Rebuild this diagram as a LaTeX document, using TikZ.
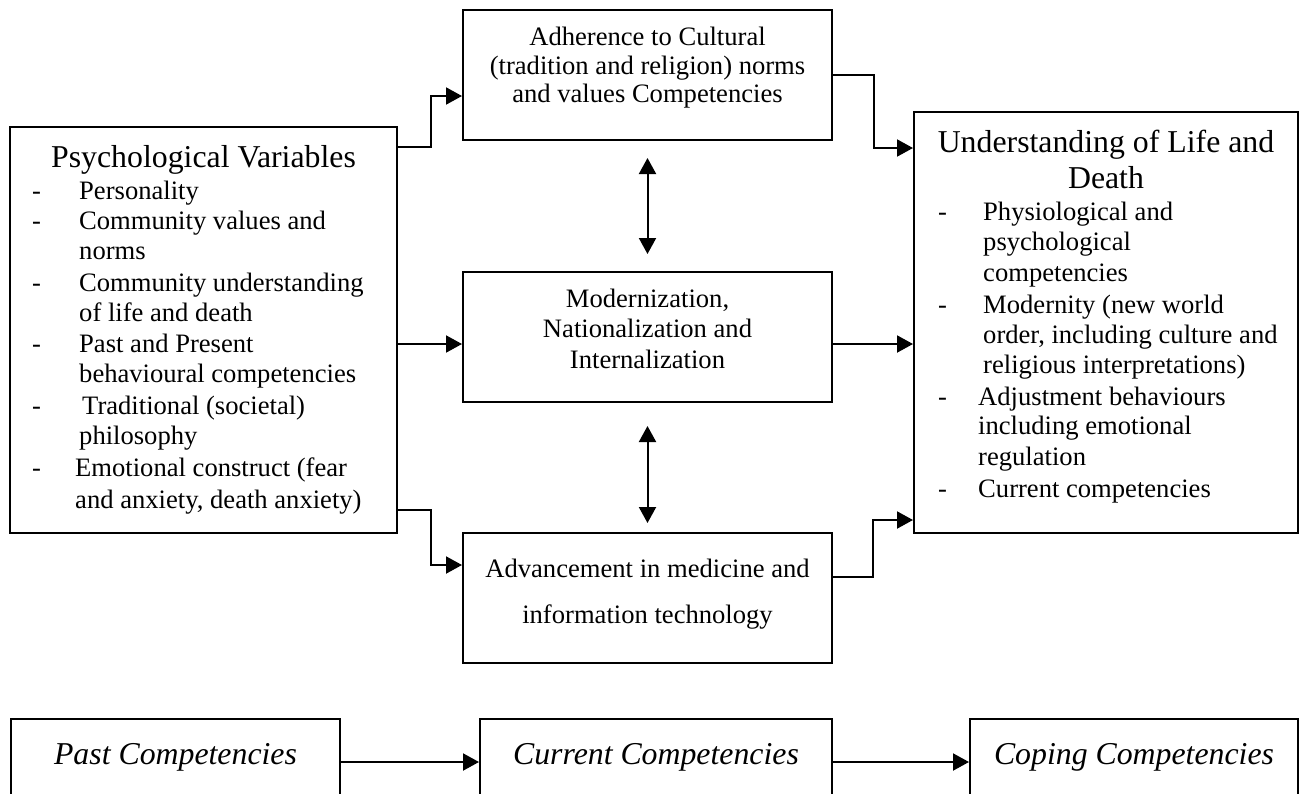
\documentclass[tikz,border=0pt]{standalone}
\usepackage{fontspec}
\setmainfont{Liberation Serif}
\usetikzlibrary{arrows.meta}
\newcommand\diagbody{\fontsize{26.6}{30}\selectfont}
\newcommand\diagtitle{\fontsize{31.8}{36}\selectfont}
\newcommand\diagital{\fontsize{31.8}{36}\selectfont\itshape}
\tikzset{
  box/.style={draw, line width=2pt, rectangle, inner sep=0pt},
  arr/.style={line width=2pt, -{Triangle[length=16pt,width=17pt]}},
  dbl/.style={line width=2pt, {Triangle[length=16pt,width=17pt]}-{Triangle[length=16pt,width=17pt]}},
  ctr/.style={inner sep=0pt, anchor=base, font=\diagbody},
  ttl/.style={inner sep=0pt, anchor=base, font=\diagtitle},
  itm/.style={inner sep=0pt, anchor=base west, font=\diagbody},
  ital/.style={inner sep=0pt, anchor=base, font=\diagital}
}
\begin{document}
\begin{tikzpicture}[x=1pt,y=-1pt]
\clip (0,0) rectangle (1302,793);
\fill[white] (0,0) rectangle (1302,793);

% boxes
\node[box, minimum width=387pt, minimum height=406pt] (pv)  at (203.5,330) {};
\node[box, minimum width=369pt, minimum height=130pt] (adh) at (647.5,75) {};
\node[box, minimum width=369pt, minimum height=130pt] (mod) at (647.5,337) {};
\node[box, minimum width=369pt, minimum height=130pt] (adv) at (647.5,598) {};
\node[box, minimum width=384pt, minimum height=421pt] (und) at (1106,322.5) {};
\node[box, minimum width=329pt, minimum height=111pt] (past) at (175.5,774.5) {};
\node[box, minimum width=352pt, minimum height=111pt] (cur)  at (656,774.5) {};
\node[box, minimum width=328pt, minimum height=111pt] (cop)  at (1134,774.5) {};

% psychological variables
\node[ttl] (pvT) at (203.5,167) {Psychological Variables};
\node[itm] (pvd1) at (32,199) {-};
\node[itm] (pv1)  at (79,199) {Personality};
\node[itm] (pvd2) at (32,229) {-};
\node[itm] (pv2)  at (79,229) {Community values and};
\node[itm] (pv3)  at (79,259) {norms};
\node[itm] (pvd3) at (32,291) {-};
\node[itm] (pv4)  at (79,291) {Community understanding};
\node[itm] (pv5)  at (79,321) {of life and death};
\node[itm] (pvd4) at (32,352) {-};
\node[itm] (pv6)  at (79,352) {Past and Present};
\node[itm] (pv7)  at (79,382) {behavioural competencies};
\node[itm] (pvd5) at (32,414) {-};
\node[itm] (pv8)  at (82,414) {Traditional (societal)};
\node[itm] (pv9)  at (79,444) {philosophy};
\node[itm] (pvd6) at (32,476) {-};
\node[itm] (pv10) at (75,476) {Emotional construct (fear};
\node[itm] (pv11) at (75,508) {and anxiety, death anxiety)};

% middle column
\node[ctr] (adh1) at (647.5,45)  {Adherence to Cultural};
\node[ctr] (adh2) at (647.5,74)  {(tradition and religion) norms};
\node[ctr] (adh3) at (647.5,102) {and values Competencies};
\node[ctr] (mod1) at (647.5,307) {Modernization,};
\node[ctr] (mod2) at (647.5,337) {Nationalization and};
\node[ctr] (mod3) at (647.5,368) {Internalization};
\node[ctr] (adv1) at (647.5,577) {Advancement in medicine and};
\node[ctr] (adv2) at (647.5,623) {information technology};

% understanding of life and death
\node[ttl] (unT1) at (1106,152) {Understanding of Life and};
\node[ttl] (unT2) at (1106,188) {Death};
\node[itm] (und1) at (938,220) {-};
\node[itm] (un1)  at (983,220) {Physiological and};
\node[itm] (un2)  at (983,250) {psychological};
\node[itm] (un3)  at (983,281) {competencies};
\node[itm] (und2) at (938,313) {-};
\node[itm] (un4)  at (983,313) {Modernity (new world};
\node[itm] (un5)  at (983,343) {order, including culture and};
\node[itm] (un6)  at (983,373) {religious interpretations)};
\node[itm] (und3) at (938,405) {-};
\node[itm] (un7)  at (978,405) {Adjustment behaviours};
\node[itm] (un8)  at (978,434) {including emotional};
\node[itm] (un9)  at (978,465) {regulation};
\node[itm] (und4) at (938,497) {-};
\node[itm] (un10) at (978,497) {Current competencies};

% bottom row
\node[ital] (pastT) at (175.5,764) {Past Competencies};
\node[ital] (curT)  at (656,764)   {Current Competencies};
\node[ital] (copT)  at (1134,764)  {Coping Competencies};

% connectors
\coordinate (min)  at ([yshift=-7pt]mod.west);
\coordinate (mout) at ([yshift=-7pt]mod.east);
\coordinate (row)  at (0,762);
\draw[arr] ([yshift=-21pt]pv.north east) -- ++(33,0) |- ([yshift=-21pt]adh.west);
\draw[arr] (pv.east |- min) -- (min);
\draw[arr] ([yshift=24pt]pv.south east) -- ++(33,0) |- ([yshift=-33pt]adv.north west);
\draw[arr] (adh.east) -- ++(41,0) |- ([yshift=-37pt]und.north west);
\draw[arr] (mout) -- (mout -| und.west);
\draw[arr] ([yshift=21pt]adv.east) -- ++(40,0) |- ([yshift=14pt]und.south west);
\draw[dbl, shorten <=17pt, shorten >=17pt] (adh.south) -- (mod.north);
\draw[dbl, shorten <=23pt, shorten >=9pt] (mod.south) -- (adv.north);
\draw[arr] (past.east |- row) -- (cur.west |- row);
\draw[arr] (cur.east |- row) -- (cop.west |- row);
\end{tikzpicture}
\end{document}
